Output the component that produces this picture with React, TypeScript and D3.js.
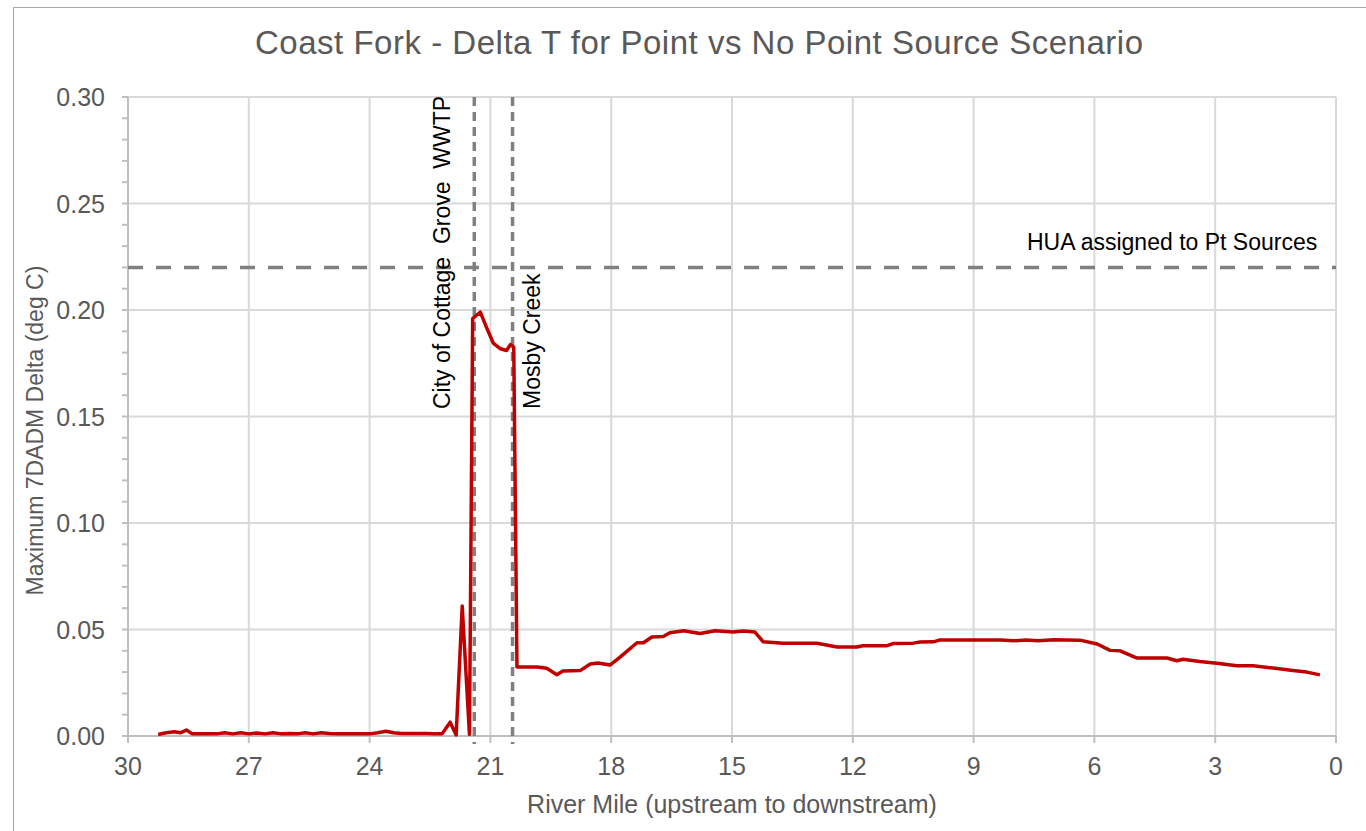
import React from "react";
import * as d3 from "d3";

const riverMile: number[] = [
  29.25, 29.05, 28.85, 28.7, 28.55, 28.4, 28.2, 28.0, 27.8, 27.6, 27.4, 27.2, 27.0, 26.8, 26.6, 26.4,
  26.2, 26.0, 25.8, 25.6, 25.4, 25.2, 25.0, 24.8, 24.6, 24.4, 24.2, 24.0, 23.8, 23.6, 23.4, 23.2,
  23.0, 22.8, 22.6, 22.4, 22.2, 22.0, 21.85, 21.7, 21.52, 21.44, 21.25, 21.1, 20.93, 20.75, 20.6,
  20.5, 20.42, 20.34, 19.84, 19.6, 19.35, 19.2, 18.77, 18.52, 18.33, 18.03, 17.78, 17.36, 17.2,
  16.99, 16.71, 16.54, 16.2, 15.79, 15.42, 14.97, 14.72, 14.43, 14.23, 13.73, 12.89, 12.39, 11.9,
  11.75, 11.15, 11.0, 10.5, 10.33, 10.0, 9.83, 9.5, 9.0, 8.34, 8.0, 7.7, 7.4, 7.0, 6.7, 6.36, 5.93,
  5.61, 5.36, 4.94, 4.2, 3.95, 3.8, 3.38, 2.96, 2.46, 2.06, 1.56, 1.07, 0.72, 0.4,
];

const deltaT: number[] = [
  0.0007, 0.0015, 0.002, 0.0015, 0.0028, 0.001, 0.001, 0.001, 0.001, 0.0015, 0.001, 0.0015, 0.001,
  0.0014, 0.001, 0.0015, 0.001, 0.0012, 0.001, 0.0015, 0.001, 0.0015, 0.0012, 0.001, 0.001, 0.001,
  0.001, 0.001, 0.0015, 0.0022, 0.0015, 0.0012, 0.0012, 0.0012, 0.0012, 0.001, 0.001, 0.0065,
  0.0005, 0.061, 0.0008, 0.196, 0.199, 0.192, 0.1845, 0.1818, 0.181, 0.1838, 0.1825, 0.0324,
  0.0324, 0.0318, 0.0288, 0.0305, 0.0307, 0.0338, 0.0343, 0.0333, 0.037, 0.0438, 0.0438, 0.0465,
  0.0467, 0.0485, 0.0494, 0.0481, 0.0494, 0.0488, 0.0493, 0.0488, 0.0443, 0.0436, 0.0435, 0.0418,
  0.0418, 0.0424, 0.0424, 0.0434, 0.0436, 0.0441, 0.0442, 0.0451, 0.0451, 0.0451, 0.0451, 0.0447,
  0.0451, 0.0447, 0.0452, 0.0451, 0.045, 0.0432, 0.0402, 0.04, 0.0366, 0.0366, 0.0353, 0.036,
  0.035, 0.0342, 0.033, 0.033, 0.0319, 0.0308, 0.03, 0.0287,
];

const xTicks: number[] = [30, 27, 24, 21, 18, 15, 12, 9, 6, 3, 0];
const yTicks: number[] = [0, 0.05, 0.1, 0.15, 0.2, 0.25, 0.3];
const yMinorTicks: number[] = d3.range(0, 31).map((i) => i / 100);

const sourceMiles: number[] = [21.4, 20.45];
const sourceLabels: string[] = ["City of Cottage  Grove  WWTP", "Mosby Creek"];
const huaValue = 0.22;
const huaLabel = "HUA assigned to Pt Sources";

const title = "Coast Fork - Delta T for Point vs No Point Source Scenario";
const xTitle = "River Mile (upstream to downstream)";
const yTitle = "Maximum 7DADM Delta (deg C)";

export default function App() {
  const W = 1366;
  const H = 831;
  const left = 128;
  const right = 1336;
  const top = 97;
  const bottom = 736;

  const x = d3.scaleLinear().domain([30, 0]).range([left, right]);
  const y = d3.scaleLinear().domain([0, 0.3]).range([bottom, top]);

  const data = riverMile.map((m, i) => [m, deltaT[i]] as [number, number]);
  const line = d3
    .line<[number, number]>()
    .x((d) => x(d[0]))
    .y((d) => y(d[1]));

  const textColor = "#595959";
  const font = "'Liberation Sans', Arial, sans-serif";

  return (
    <svg
      width={W}
      height={H}
      style={{ position: "absolute", left: 0, top: 0, background: "#fff" }}
      fontFamily={font}
    >
      <rect x={13.5} y={7.5} width={W + 20} height={H + 20} fill="#fff" stroke="#a6a6a6" strokeWidth={1} />

      {/* gridlines */}
      {yTicks.map((t) => (
        <line key={"gy" + t} x1={left} x2={right} y1={y(t)} y2={y(t)} stroke="#d9d9d9" strokeWidth={2} />
      ))}
      {xTicks.map((t) => (
        <line key={"gx" + t} x1={x(t)} x2={x(t)} y1={top} y2={bottom} stroke="#d9d9d9" strokeWidth={2} />
      ))}

      {/* axes */}
      <line x1={left} x2={left} y1={top} y2={bottom} stroke="#bfbfbf" strokeWidth={2} />
      <line x1={left} x2={right} y1={bottom} y2={bottom} stroke="#bfbfbf" strokeWidth={2} />
      {yMinorTicks.map((t) => (
        <line key={"ty" + t} x1={left - 6} x2={left} y1={y(t)} y2={y(t)} stroke="#bfbfbf" strokeWidth={2} />
      ))}
      {xTicks.map((t) => (
        <line key={"tx" + t} x1={x(t)} x2={x(t)} y1={bottom} y2={bottom + 7} stroke="#bfbfbf" strokeWidth={2} />
      ))}

      {/* tick labels */}
      {yTicks.map((t) => (
        <text
          key={"ly" + t}
          x={left - 23}
          y={y(t)}
          dy="0.36em"
          textAnchor="end"
          fontSize={25}
          fill={textColor}
        >
          {d3.format(".2f")(t)}
        </text>
      ))}
      {xTicks.map((t) => (
        <text key={"lx" + t} x={x(t)} y={bottom + 39} textAnchor="middle" fontSize={25} fill={textColor}>
          {t}
        </text>
      ))}

      {/* reference lines */}
      <line
        x1={left}
        x2={right}
        y1={y(huaValue)}
        y2={y(huaValue)}
        stroke="#808080"
        strokeWidth={3.5}
        strokeDasharray="15 13"
      />
      {sourceMiles.map((m) => (
        <line
          key={"src" + m}
          x1={x(m)}
          x2={x(m)}
          y1={top}
          y2={bottom + 8}
          stroke="#808080"
          strokeWidth={3.5}
          strokeDasharray="9 6"
        />
      ))}

      {/* data line */}
      <path d={line(data) || ""} fill="none" stroke="#c00000" strokeWidth={3.5} strokeLinejoin="round" />

      {/* labels */}
      <text x={1027} y={250} fontSize={23} fill="#000">
        {huaLabel}
      </text>
      {sourceMiles.map((m, i) => (
        <text
          key={"sl" + i}
          transform={`translate(${x(m) - 24 + (i === 1 ? 51 : 0)},409) rotate(-90)`}
          fontSize={23}
          fill="#000"
          style={{ whiteSpace: "pre" }}
        >
          {sourceLabels[i]}
        </text>
      ))}

      {/* titles */}
      <text x={699} y={54} textAnchor="middle" fontSize={33} fill={textColor} textLength={888} lengthAdjust="spacing">
        {title}
      </text>
      <text x={(left + right) / 2} y={813} textAnchor="middle" fontSize={25} fill={textColor}>
        {xTitle}
      </text>
      <text transform={`translate(43,${(top + bottom) / 2 + 14}) rotate(-90)`} textAnchor="middle" fontSize={23} fill={textColor}>
        {yTitle}
      </text>
    </svg>
  );
}
